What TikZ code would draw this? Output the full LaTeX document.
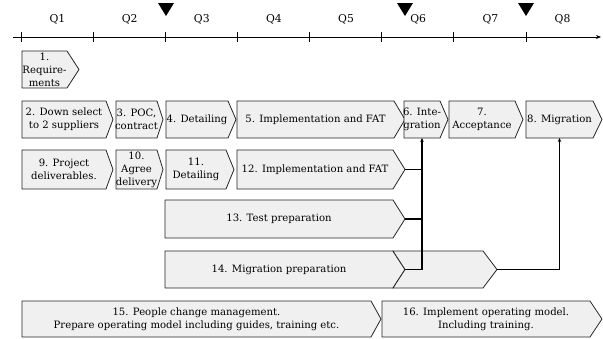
\documentclass[tikz,border=0pt]{standalone}
\usepackage{fontspec}
\setmainfont{DejaVu Serif}
\usetikzlibrary{arrows.meta}

% pentagon stage: #1 name, #2 left, #3 shoulder, #4 tip, #5 top, #6 bottom, #7 text
\newcommand\stagebox[7]{%
  \draw[stage] (#2,#5) -- (#3,#5) -- (#4,{(#5+#6)/2}) -- (#3,#6) -- (#2,#6) -- cycle;
  \node[lbl] (#1) at ({(#2+#3)/2},{(#5+#6)/2}) {#7};
  \coordinate (#1-tip) at (#4,{(#5+#6)/2});
  \coordinate (#1-bot) at ({(#2+#3)/2},#6);
}

\begin{document}
\begin{tikzpicture}[x=1pt,y=-1pt,
  stage/.style={draw=black!85,fill=black!6,line width=0.8pt},
  lbl/.style={font=\fontsize{10.1}{13}\selectfont,align=center,inner sep=0pt},
  qlbl/.style={font=\fontsize{10.8}{12}\selectfont,inner sep=0pt},
  link/.style={line width=1.4pt,black},
  linkarrow/.style={link,-{Stealth[length=4pt,width=3.5pt]}},
  milestone/.style={fill=black}
]
\useasboundingbox (0,0) rectangle (603,338);

% time axis with quarter ticks
\coordinate (axL) at (13,37);
\coordinate (axR) at (601,37);
\draw[line width=1pt,-{Stealth[length=5pt,width=4pt]}] (axL) -- (axR);
\foreach \k in {0,...,7}{
  \draw[line width=1pt] ({21+72.15*\k},32) -- ({21+72.15*\k},42);
}
\foreach \k/\q in {0/Q1,1/Q2,2/Q3,3/Q4,4/Q5,5/Q6,6/Q7,7/Q8}{
  \node[qlbl] (q\k) at ({57.5+72.15*\k},19) {\q};
}

% milestones
\fill[milestone] (158,3) -- (174,3) -- (166,16) -- cycle;
\fill[milestone] (397,3) -- (413,3) -- (405,16) -- cycle;
\fill[milestone] (518,3) -- (534,3) -- (526,16) -- cycle;

% stages
\stagebox{b1}{22}{67}{79}{51}{88}{1.\\Require-\\ments}

\stagebox{b2}{22}{106}{113}{101}{138}{2. Down select\\to 2 suppliers}
\stagebox{b3}{116}{157}{163}{101}{138}{3. POC,\\contract}
\stagebox{b4}{166}{228}{236}{101}{138}{4. Detailing}
\stagebox{b5}{237}{394}{405}{101}{138}{5. Implementation and FAT}
\stagebox{b6}{404}{440}{448}{101}{138}{6. Inte-\\gration}
\stagebox{b7}{449}{515}{523}{101}{138}{7.\\Acceptance}
\stagebox{b8}{526}{593}{602}{101}{138}{8. Migration}

\stagebox{b9}{22}{106}{113}{150}{189}{9. Project\\deliverables.}
\stagebox{b10}{116}{157}{163}{150}{189}{10.\\Agree\\delivery}
\stagebox{b11}{166}{226}{234}{150}{189}{11.\\Detailing}
\stagebox{b12}{237}{393}{405}{150}{189}{12. Implementation and FAT}

\stagebox{b13}{165}{393}{405}{200}{238}{13. Test preparation}
\stagebox{b14}{165}{393}{405}{251}{288}{14. Migration preparation}
\draw[stage] (393,251) -- (483,251) -- (497,269.5) -- (483,288) -- (393,288) -- (405,269.5) -- cycle;
\coordinate (b14x-tip) at (497,269.5);

\stagebox{b15}{22}{371}{381}{301}{337}{15. People change management.\\Prepare operating model including guides, training etc.}
\stagebox{b16}{382}{590}{602}{301}{337}{16. Implement operating model.\\Including training.}

% dependencies
\draw[linkarrow] (b14-tip) -| (b6-bot);
\draw[link] (b12-tip) -- (b12-tip -| b6-bot);
\draw[link] (b13-tip) -- (b13-tip -| b6-bot);
\draw[linkarrow] (b14x-tip) -| (b8-bot);
\end{tikzpicture}
\end{document}
